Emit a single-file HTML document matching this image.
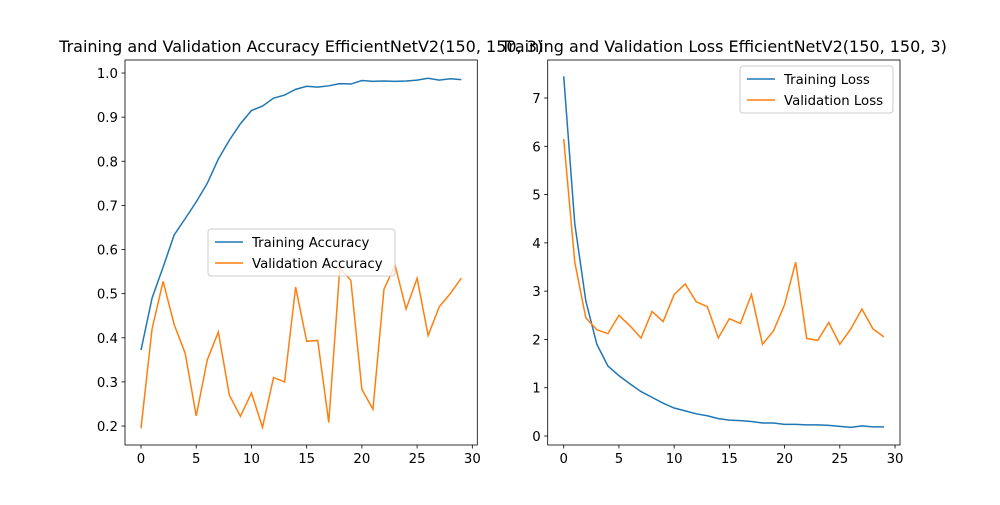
<!DOCTYPE html>
<html><head><meta charset="utf-8"><style>
body{margin:0;background:#fff}
svg text{font-family:"DejaVu Sans","Liberation Sans",sans-serif;fill:#000}
</style></head><body>
<svg id="fig" width="1000" height="500" viewBox="0 0 1000 500" xmlns="http://www.w3.org/2000/svg"></svg>
<script>
const epochs = Array.from({length:30},(_,i)=>i);
const trainAcc = [0.372,0.49,0.56,0.633,0.67,0.708,0.75,0.805,0.848,0.885,0.915,0.925,0.943,0.95,0.963,0.97,0.968,0.971,0.976,0.975,0.983,0.981,0.982,0.981,0.982,0.984,0.988,0.984,0.987,0.985];
const valAcc = [0.195,0.42,0.528,0.43,0.365,0.223,0.35,0.413,0.27,0.222,0.275,0.197,0.31,0.3,0.515,0.392,0.394,0.208,0.558,0.53,0.283,0.238,0.51,0.565,0.465,0.535,0.405,0.47,0.5,0.535];
const trainLoss = [7.45,4.4,2.8,1.9,1.45,1.25,1.08,0.92,0.8,0.68,0.58,0.52,0.46,0.42,0.36,0.33,0.32,0.3,0.27,0.27,0.24,0.24,0.23,0.23,0.22,0.2,0.18,0.21,0.19,0.19];
const valLoss = [6.15,3.6,2.45,2.2,2.12,2.5,2.28,2.03,2.58,2.37,2.93,3.15,2.78,2.68,2.03,2.43,2.33,2.93,1.9,2.18,2.72,3.6,2.02,1.98,2.35,1.9,2.22,2.63,2.22,2.05];
const xTicks = [0,5,10,15,20,25,30];
const accTicks = [0.2,0.3,0.4,0.5,0.6,0.7,0.8,0.9,1.0];
const lossTicks = [0,1,2,3,4,5,6,7];

const NS="http://www.w3.org/2000/svg";
const svg=document.getElementById('fig');
function mk(tag,attrs,parent){const e=document.createElementNS(NS,tag);for(const k in attrs)e.setAttribute(k,attrs[k]);(parent||svg).appendChild(e);return e;}

function panel(p){
  const g=mk('g',{});
  
  
  const L=p.x0,R=p.x1,T=60,B=445;
  const sx=v=>L+(v-(-1.45))/(30.45+1.45)*(R-L);
  const sy=v=>B-(v-p.ymin)/(p.ymax-p.ymin)*(B-T);
  xTicks.forEach(t=>{
    mk('line',{x1:sx(t),x2:sx(t),y1:B,y2:B+3.5,stroke:'#000','stroke-width':0.8},g);
    const tx=mk('text',{x:sx(t),y:B+18,'font-size':13.3,'text-anchor':'middle'},g);tx.textContent=t;
    
    
  });
  p.ticks.forEach(t=>{
    mk('line',{x1:L-3.5,x2:L,y1:sy(t),y2:sy(t),stroke:'#000','stroke-width':0.8},g);
    const tx=mk('text',{x:L-7,y:sy(t)+5,'font-size':13.3,'text-anchor':'end'},g);tx.textContent=p.fmt(t);
    
    
  });
  p.series.forEach(s=>{
    const pl=mk('polyline',{points:epochs.map(i=>sx(i)+','+sy(s.data[i])).join(' '),fill:'none',stroke:s.color,'stroke-width':1.5},g);
    
    
  });
  mk('rect',{x:L,y:T,width:R-L,height:B-T,fill:'none',stroke:'#000','stroke-width':0.8},g);
  const ti=mk('text',{x:(L+R)/2,y:52,'font-size':16,'text-anchor':'middle'},g);ti.textContent=p.title;
  
  
  const lg=mk('g',{},g);
  
  
  mk('rect',{x:p.lx,y:p.ly,width:p.lw,height:47,rx:3,fill:'#fff','fill-opacity':0.8,stroke:'#ccc'},lg);
  p.series.forEach((s,i)=>{
    const yy=p.ly+13+i*21;
    mk('line',{x1:p.lx+7,x2:p.lx+35,y1:yy,y2:yy,stroke:s.color,'stroke-width':1.5},lg);
    const t=mk('text',{x:p.lx+44,y:yy+5,'font-size':13.3},lg);t.textContent=s.label;
    
    
  });
}
panel({name:'accuracy-chart',x0:125,x1:477.3,ymin:0.157,ymax:1.0295,ticks:accTicks,fmt:t=>t.toFixed(1),
  title:'Training and Validation Accuracy EfficientNetV2(150, 150, 3)',lx:208,ly:229,lw:187,
  series:[{id:'training-accuracy-line',data:trainAcc,color:'#1f77b4',label:'Training Accuracy'},{id:'validation-accuracy-line',data:valAcc,color:'#ff7f0e',label:'Validation Accuracy'}]});
panel({name:'loss-chart',x0:547.7,x1:900,ymin:-0.186,ymax:7.787,ticks:lossTicks,fmt:t=>String(t),
  title:'Training and Validation Loss EfficientNetV2(150, 150, 3)',lx:740,ly:66,lw:153,
  series:[{id:'training-loss-line',data:trainLoss,color:'#1f77b4',label:'Training Loss'},{id:'validation-loss-line',data:valLoss,color:'#ff7f0e',label:'Validation Loss'}]});
</script>
</body></html>
